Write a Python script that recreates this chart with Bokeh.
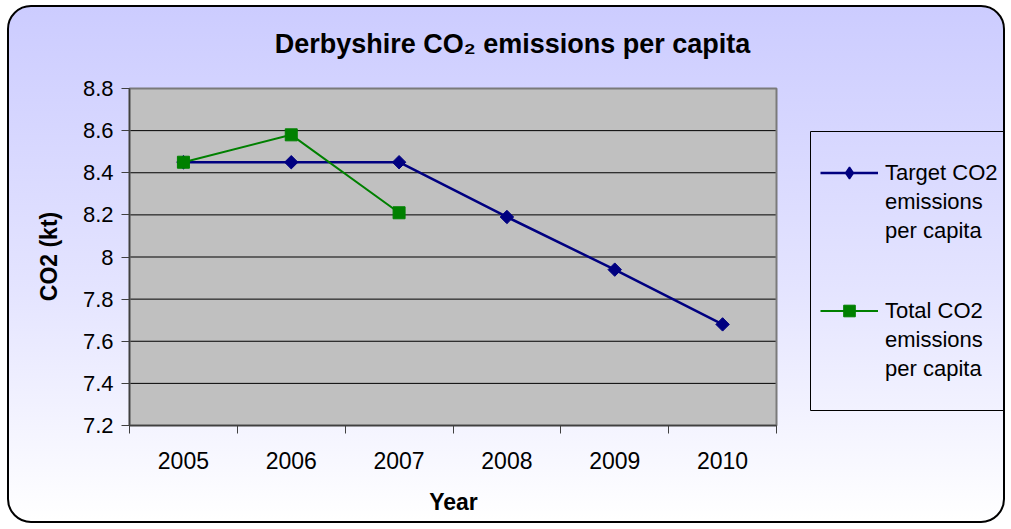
import math
from bokeh.plotting import figure
from bokeh.models import (FixedTicker, CustomJSTickFormatter, Legend, LegendItem, Label,
                          BoxAnnotation, InlineStyleSheet, Range1d)
from bokeh.embed import file_html
from bokeh.resources import INLINE

# ---- data ----
years = ["2005", "2006", "2007", "2008", "2009", "2010"]
target = [8.45, 8.45, 8.45, 8.19, 7.94, 7.68]
total_years = ["2005", "2006", "2007"]
total = [8.45, 8.58, 8.21]
y_ticks = [7.2, 7.4, 7.6, 7.8, 8.0, 8.2, 8.4, 8.6, 8.8]
title_text = "Derbyshire CO\u2082 emissions per capita"
x_label = "Year"
y_label = "CO2 (kt)"
legend_labels = ["Target CO2\nemissions\nper capita", "Total CO2\nemissions\nper capita"]

FONT = "Liberation Sans"
W, H = 998, 518
# grey plot area inside the canvas (px): the whole canvas is the frame
PLOT_L, PLOT_T, PLOT_W, PLOT_H = 120, 81, 647, 337

n = len(years)
y0, y1 = y_ticks[0], y_ticks[-1]
sx = n / PLOT_W
sy = (y1 - y0) / PLOT_H
idx = {y: i + 0.5 for i, y in enumerate(years)}
x_target = [idx[y] for y in years]
x_total = [idx[y] for y in total_years]

p = figure(width=W, height=H, output_backend="svg", toolbar_location=None,
           x_range=Range1d(-PLOT_L * sx, (W - PLOT_L) * sx),
           y_range=Range1d(y0 - (H - PLOT_T - PLOT_H) * sy, y1 + PLOT_T * sy),
           min_border=0, min_border_left=0, min_border_right=0,
           min_border_top=0, min_border_bottom=0)
p.title = None

p.stylesheets.append(InlineStyleSheet(css=""":host {
  background: linear-gradient(to bottom, #CCCCFF 0%, #E4E4FF 55%, #FFFFFF 100%);
  border: 2px solid #000;
  border-radius: 24px;
  margin-left: 7px;
  margin-top: 5px;
}"""))

p.border_fill_alpha = 0
p.background_fill_alpha = 0
p.outline_line_alpha = 0
p.xgrid.visible = False
p.ygrid.visible = False

# grey plot area and gridlines
p.quad(left=0, right=n, bottom=y0, top=y1, fill_color="#C0C0C0", line_alpha=0)
p.segment(x0=0, x1=n, y0=y_ticks, y1=y_ticks, line_color="#000000", line_width=1)

# y axis (fixed at the plot area's left edge)
ya = p.yaxis[0]
ya.fixed_location = 0
ya.bounds = (y0, y1)
ya.ticker = FixedTicker(ticks=y_ticks)
ya.formatter = CustomJSTickFormatter(code="return String(Math.round(tick*10)/10);")
ya.major_label_text_font = FONT
ya.major_label_text_font_size = "22px"
ya.major_label_text_color = "#000000"
ya.major_tick_out = 8
ya.major_tick_in = 0
ya.minor_tick_out = 0
ya.minor_tick_in = 0
ya.major_label_standoff = 8
ya.axis_line_color = "#404040"
ya.axis_line_width = 1.5
ya.major_tick_line_color = "#404040"

# x axis (fixed at the plot area's bottom edge)
xa = p.xaxis[0]
xa.fixed_location = y0
xa.bounds = (0, n)
xa.ticker = FixedTicker(ticks=[i + 0.5 for i in range(n)], minor_ticks=list(range(n + 1)))
xa.major_label_overrides = {i + 0.5: y for i, y in enumerate(years)}
xa.major_label_text_font = FONT
xa.major_label_text_font_size = "23px"
xa.major_label_text_color = "#000000"
xa.major_tick_out = 0
xa.major_tick_in = 0
xa.minor_tick_out = 8
xa.minor_tick_in = 0
xa.minor_tick_line_color = "#404040"
xa.major_label_standoff = 18
xa.axis_line_color = "#404040"
xa.axis_line_width = 1.5

# outline of plot area
p.quad(left=0, right=n, bottom=y0, top=y1, fill_alpha=0, line_color="#7A7A7A", line_width=2)

# series
l1 = p.line(x_target, target, line_color="#000080", line_width=2.5)
s1 = p.scatter(x_target, target, marker="square", angle=0.785398, size=9.5,
               fill_color="#000080", line_color="#000080")
l2 = p.line(x_total, total, line_color="#008000", line_width=2)
s2 = p.scatter(x_total, total, marker="square", size=12,
               fill_color="#008000", line_color="#008000")

# legend-only helpers (hidden in the plot)
d_diamond = p.scatter(x_target, target, marker="diamond", fill_color="#000080",
                      line_color="#000080", line_width=1.5, visible=False)
d_blank = p.line(x_target, target, line_alpha=0, visible=False)

def make_legend(lines, glyph_renderers, loc):
    items = [LegendItem(label=lines[0], renderers=glyph_renderers)]
    items += [LegendItem(label=t, renderers=[d_blank]) for t in lines[1:]]
    lg = Legend(items=items, location=loc)
    lg.border_line_alpha = 0
    lg.background_fill_alpha = 0
    lg.padding = 0
    lg.margin = 0
    lg.spacing = 0
    lg.glyph_width = 58
    lg.glyph_height = 29
    lg.label_height = 29
    lg.label_standoff = 7
    lg.label_text_font = FONT
    lg.label_text_font_size = "22px"
    lg.label_text_color = "#000000"
    return lg

p.add_layout(make_legend(legend_labels[0].split("\n"), [l1, d_diamond], (811, 280)))
p.add_layout(make_legend(legend_labels[1].split("\n"), [l2, s2], (811, 142)))

# legend box border
p.add_layout(BoxAnnotation(left=801, right=994, bottom=115, top=394,
                           left_units="screen", right_units="screen",
                           top_units="screen", bottom_units="screen",
                           fill_alpha=0, line_color="#000000", line_alpha=1,
                           line_width=1))

# chart title and axis titles
p.add_layout(Label(x=503, y=482, x_units="screen", y_units="screen", text=title_text,
                   text_align="center", text_baseline="middle",
                   text_font=FONT, text_font_style="bold", text_font_size="27px",
                   text_color="#000000"))
p.add_layout(Label(x=444, y=24, x_units="screen", y_units="screen", text=x_label,
                   text_align="center", text_baseline="middle",
                   text_font=FONT, text_font_style="bold", text_font_size="23px",
                   text_color="#000000"))
p.add_layout(Label(x=39, y=269, x_units="screen", y_units="screen", text=y_label,
                   angle=math.pi / 2, text_align="center", text_baseline="middle",
                   text_font=FONT, text_font_style="bold", text_font_size="23px",
                   text_color="#000000"))

open("out.html", "w").write(file_html(p, INLINE))
